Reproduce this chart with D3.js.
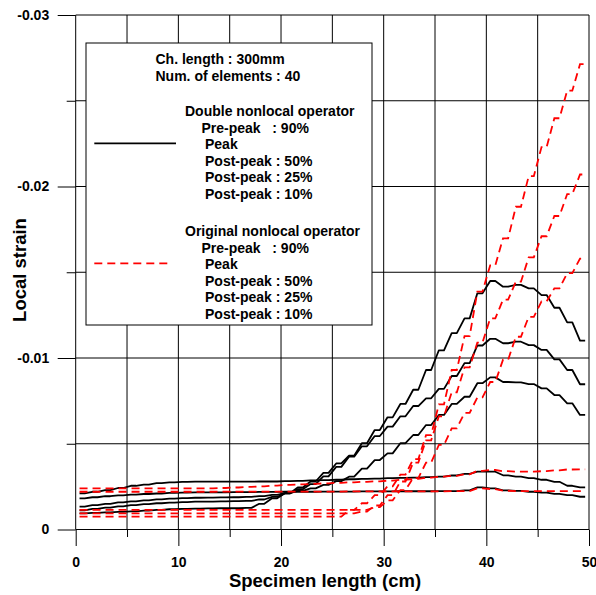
<!DOCTYPE html>
<html>
<head>
<meta charset="utf-8">
<script src="https://cdn.jsdelivr.net/npm/d3@7"></script>
<style>
  body { margin: 0; background: #fff; }
  svg text { font-family: "Liberation Sans", Arial, sans-serif; font-weight: bold; fill: #000; }
</style>
</head>
<body>
<svg id="chart" width="596" height="595"></svg>
<script>
// Mesh: 40 elements over a 50 cm specimen; each element's strain is drawn
// at two sampling points inside the element (fractions of its length).
const elementCount = 40;
const specimenLength = 50;
const samplePoints = [0.3, 0.7];

// Axis ticks (strain values are kept in units of 1e-3)
const xTickValues = [0, 10, 20, 30, 40, 50];
const xMinorValues = [5, 15, 25, 35, 45];
const yTickValues = [0, -10, -20, -30];
const yMinorValues = [-5, -15, -25];

// Double nonlocal operator, local strain per element (x 1e-3)
const doublePrePeak90 = [-1.82,-1.88,-1.94,-1.99,-2.03,-2.07,-2.10,-2.13,-2.15,-2.16,
  -2.17,-2.17,-2.18,-2.18,-2.19,-2.19,-2.20,-2.20,-2.20,-2.21,
  -2.21,-2.21,-2.22,-2.22,-2.22,-2.23,-2.23,-2.23,-2.24,-2.24,
  -2.28,-2.46,-2.40,-2.28,-2.25,-2.20,-2.15,-2.08,-2.00,-1.91];
const doublePeak = [-2.11,-2.20,-2.30,-2.42,-2.55,-2.62,-2.70,-2.75,-2.78,-2.79,
  -2.79,-2.79,-2.79,-2.79,-2.80,-2.80,-2.82,-2.84,-2.86,-2.88,
  -2.90,-2.93,-2.95,-2.97,-2.99,-3.01,-3.03,-3.05,-3.08,-3.15,
  -3.24,-3.37,-3.37,-3.16,-3.08,-3.00,-2.90,-2.78,-2.55,-2.46];
const doublePostPeak50 = [-1.33,-1.42,-1.50,-1.58,-1.64,-1.70,-1.76,-1.80,-1.83,-1.85,
  -1.86,-1.87,-1.88,-1.90,-1.95,-2.02,-2.12,-2.25,-2.40,-2.60,
  -2.82,-3.08,-3.55,-4.05,-4.44,-5.03,-5.51,-6.09,-6.68,-7.32,
  -7.74,-8.53,-8.87,-8.60,-8.58,-8.48,-8.23,-7.84,-7.36,-6.68];
const doublePostPeak25 = [-1.12,-1.20,-1.28,-1.35,-1.42,-1.48,-1.53,-1.57,-1.60,-1.62,
  -1.63,-1.64,-1.65,-1.67,-1.75,-1.90,-2.10,-2.35,-2.65,-3.10,
  -3.65,-4.25,-4.85,-5.45,-6.00,-6.60,-7.20,-7.65,-8.20,-8.95,
  -9.70,-10.73,-11.12,-10.86,-10.95,-10.75,-10.47,-9.92,-9.30,-8.47];
const doublePostPeak10 = [-0.94,-0.97,-1.00,-1.03,-1.06,-1.10,-1.14,-1.18,-1.20,-1.22,
  -1.23,-1.24,-1.24,-1.26,-1.50,-1.82,-2.12,-2.45,-2.80,-3.30,
  -3.85,-4.30,-5.03,-5.80,-6.54,-7.32,-8.15,-9.30,-10.45,-11.45,
  -12.31,-13.77,-14.49,-14.16,-14.26,-14.06,-13.67,-12.93,-12.08,-11.01];

// Original nonlocal operator, local strain per element (x 1e-3)
const originalPrePeak90 = [-2.20,-2.20,-2.20,-2.20,-2.20,-2.20,-2.20,-2.20,-2.20,-2.20,
  -2.20,-2.21,-2.21,-2.21,-2.21,-2.21,-2.21,-2.21,-2.21,-2.21,
  -2.21,-2.22,-2.22,-2.22,-2.22,-2.22,-2.22,-2.22,-2.22,-2.24,
  -2.24,-2.40,-2.36,-2.26,-2.24,-2.24,-2.24,-2.24,-2.24,-2.24];
const originalPeak = [-2.40,-2.40,-2.40,-2.40,-2.40,-2.40,-2.40,-2.40,-2.40,-2.40,
  -2.40,-2.42,-2.45,-2.48,-2.52,-2.56,-2.60,-2.63,-2.66,-2.69,
  -2.72,-2.75,-2.78,-2.81,-2.85,-2.90,-2.95,-3.02,-3.08,-3.13,
  -3.22,-3.42,-3.47,-3.40,-3.37,-3.37,-3.40,-3.45,-3.50,-3.51];
const originalPostPeak50 = [-1.14,-1.14,-1.14,-1.14,-1.14,-1.14,-1.14,-1.14,-1.14,-1.14,
  -1.14,-1.14,-1.14,-1.14,-1.14,-1.14,-1.14,-1.14,-1.14,-1.14,
  -1.14,-1.14,-1.14,-1.30,-1.70,-2.30,-3.00,-3.90,-4.93,-5.90,
  -6.80,-7.70,-8.60,-9.90,-11.24,-12.40,-13.30,-14.06,-14.95,-15.80];
const originalPostPeak25 = [-0.94,-0.94,-0.94,-0.94,-0.94,-0.94,-0.94,-0.94,-0.94,-0.94,
  -0.94,-0.94,-0.94,-0.94,-0.94,-0.94,-0.94,-0.94,-0.94,-0.94,
  -0.94,-0.94,-1.05,-1.40,-2.00,-2.80,-3.90,-5.20,-6.60,-8.00,
  -9.45,-10.90,-12.31,-13.40,-14.45,-15.87,-17.10,-18.28,-19.56,-20.70];
const originalPostPeak10 = [-0.75,-0.75,-0.75,-0.75,-0.75,-0.75,-0.75,-0.75,-0.75,-0.75,
  -0.75,-0.75,-0.75,-0.75,-0.75,-0.75,-0.75,-0.75,-0.75,-0.75,
  -0.75,-1.14,-1.53,-2.00,-2.52,-3.20,-4.10,-5.50,-7.30,-9.30,
  -11.28,-13.87,-15.40,-16.98,-18.82,-20.60,-22.30,-23.98,-25.59,-27.13];

const doubleSeries = [doublePrePeak90, doublePeak, doublePostPeak50, doublePostPeak25, doublePostPeak10];
const originalSeries = [originalPrePeak90, originalPeak, originalPostPeak50, originalPostPeak25, originalPostPeak10];

// Legend text
const headerLines = ["Ch. length : 300mm", "Num. of elements : 40"];
const operatorNames = ["Double nonlocal operator", "Original nonlocal operator"];
const stageLabels = ["Pre-peak\u00a0\u00a0\u00a0: 90%", "Peak", "Post-peak : 50%", "Post-peak : 25%", "Post-peak : 10%"];

const xTitle = "Specimen length (cm)";
const yTitle = "Local strain";

const svg = d3.select("#chart");
const x = d3.scaleLinear().domain([0, specimenLength]).range([75.7, 589]);
const y = d3.scaleLinear().domain([0, -30]).range([529.5, 15]);

// grid
const grid = svg.append("g").attr("stroke", "#000").attr("stroke-width", 1).attr("fill", "none");
grid.selectAll(".vx").data(xTickValues.concat(xMinorValues)).join("line")
  .attr("x1", d => x(d)).attr("x2", d => x(d))
  .attr("y1", y(0)).attr("y2", y(-30));
grid.selectAll(".hy").data(yTickValues.concat(yMinorValues)).join("line")
  .attr("y1", d => y(d)).attr("y2", d => y(d))
  .attr("x1", x(0)).attr("x2", x(specimenLength));

function styleAxis(g, size) {
  g.select(".domain").remove();
  g.selectAll(".tick line").attr("stroke", "#000").attr("stroke-width", 1);
  g.selectAll(".tick text")
    .style("font-family", '"Liberation Sans", Arial, sans-serif')
    .style("font-weight", "bold")
    .style("font-size", size + "px")
    .attr("fill", "#000");
}

// x axis ticks and labels
svg.append("g").attr("transform", `translate(0,${y(0)})`)
  .call(d3.axisBottom(x).tickValues(xTickValues).tickSize(16.5).tickPadding(11).tickFormat(d3.format("d")))
  .call(g => styleAxis(g, 14));
svg.append("g").attr("transform", `translate(0,${y(0)})`)
  .call(d3.axisBottom(x).tickValues(xMinorValues).tickSize(7.5).tickFormat(""))
  .call(g => styleAxis(g, 14));

// y axis ticks and labels (values shown as strain)
svg.append("g").attr("transform", `translate(${x(0)},0)`)
  .call(d3.axisLeft(y).tickValues(yTickValues).tickSize(18).tickPadding(8.5)
    .tickFormat(d => d === 0 ? "0" : (d / 1000).toFixed(2)))
  .call(g => styleAxis(g, 14));
svg.append("g").attr("transform", `translate(${x(0)},0)`)
  .call(d3.axisLeft(y).tickValues(yMinorValues).tickSize(9).tickFormat(""))
  .call(g => styleAxis(g, 14));

// axis titles
svg.append("text").attr("x", 325).attr("y", 587).attr("text-anchor", "middle")
  .style("font-size", "18.5px").text(xTitle);
svg.append("text").attr("transform", "translate(26,270) rotate(-90)").attr("text-anchor", "middle")
  .style("font-size", "18.5px").text(yTitle);

// strain profiles
const toPoints = values => values.flatMap((v, i) =>
  samplePoints.map(s => [(i + s) * specimenLength / elementCount, v]));
const line = d3.line().x(d => x(d[0])).y(d => y(d[1]));

svg.append("g").selectAll("path").data(doubleSeries).join("path")
  .attr("d", d => line(toPoints(d)))
  .attr("fill", "none").attr("stroke", "#000").attr("stroke-width", 1.8)
  .attr("stroke-linejoin", "round");
svg.append("g").selectAll("path").data(originalSeries).join("path")
  .attr("d", d => line(toPoints(d)))
  .attr("fill", "none").attr("stroke", "#ff0000").attr("stroke-width", 1.8)
  .attr("stroke-dasharray", "8,5");

// legend
const legend = svg.append("g");
legend.append("rect").attr("x", 86).attr("y", 43).attr("width", 286).attr("height", 282)
  .attr("fill", "#fff").attr("stroke", "#000").attr("stroke-width", 1);
legend.selectAll(".hdr").data(headerLines).join("text")
  .attr("x", 155.5).attr("y", (d, i) => 64 + i * 16.6)
  .style("font-size", "14px").text(d => d);

const groups = [
  { name: operatorNames[0], top: 116, color: "#000", dash: null, sampleY: 143.3, sampleX2: 176 },
  { name: operatorNames[1], top: 236, color: "#ff0000", dash: "8,5", sampleY: 263.3, sampleX2: 172 }
];
groups.forEach(gr => {
  legend.append("text").attr("x", 185).attr("y", gr.top).style("font-size", "14px").text(gr.name);
  legend.selectAll(null).data(stageLabels).join("text")
    .attr("x", (d, i) => i === 0 ? 201.5 : 205)
    .attr("y", (d, i) => gr.top + 16.6 * (i + 1))
    .style("font-size", "14px")
    .text(d => d);
  legend.append("line").attr("x1", 94.3).attr("x2", gr.sampleX2)
    .attr("y1", gr.sampleY).attr("y2", gr.sampleY)
    .attr("stroke", gr.color).attr("stroke-width", 1.8)
    .attr("stroke-dasharray", gr.dash);
});
</script>
</body>
</html>
